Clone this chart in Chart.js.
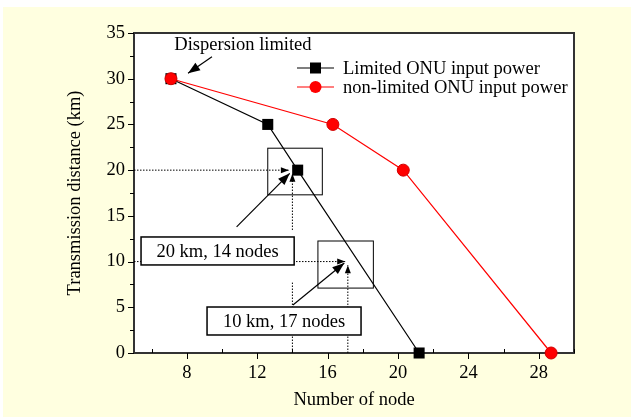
<!DOCTYPE html>
<html>
<head>
<meta charset="utf-8">
<script src="https://cdn.jsdelivr.net/npm/chart.js@4.4.1/dist/chart.umd.min.js"></script>
<style>
  html, body { margin: 0; padding: 0; background: #fff; }
  #wrap { width: 631px; height: 417px; }
</style>
</head>
<body>
<div id="wrap"><canvas id="chart" width="631" height="417"></canvas></div>
<script>
const limitedX = [7.1, 12.6, 14.3, 21.2];
const limitedY = [30, 25, 20, 0];
const nonLimitedX = [7.1, 16.3, 20.3, 28.7];
const nonLimitedY = [30, 25, 20, 0];
const xTickLabels = [8, 12, 16, 20, 24, 28];
const yTickLabels = [0, 5, 10, 15, 20, 25, 30, 35];
const seriesNames = ["Limited ONU input power", "non-limited ONU input power"];

const serif = "'Liberation Serif', 'Times New Roman', serif";
const fontSize = 18.5;

function toPoints(xs, ys) {
  return xs.map((x, i) => ({ x, y: ys[i] }));
}

function arrowHead(ctx, x1, y1, x2, y2, len, half) {
  const a = Math.atan2(y2 - y1, x2 - x1);
  ctx.beginPath();
  ctx.moveTo(x2, y2);
  ctx.lineTo(x2 - len * Math.cos(a) + half * Math.sin(a), y2 - len * Math.sin(a) - half * Math.cos(a));
  ctx.lineTo(x2 - len * Math.cos(a) - half * Math.sin(a), y2 - len * Math.sin(a) + half * Math.cos(a));
  ctx.closePath();
  ctx.fill();
}

const decor = {
  id: "decor",
  beforeDraw(chart) {
    const { ctx, chartArea: a } = chart;
    ctx.save();
    ctx.fillStyle = "#ffffff";
    ctx.fillRect(0, 0, chart.width, chart.height);
    ctx.fillStyle = "#ffffe0";
    ctx.fillRect(3, 7, chart.width - 3, chart.height - 7);
    ctx.fillStyle = "#ffffff";
    ctx.fillRect(a.left, a.top, a.right - a.left, a.bottom - a.top);
    ctx.restore();
  },
  afterDatasetsDraw(chart) {
    const { ctx, chartArea: a, scales } = chart;
    const px = (v) => scales.x.getPixelForValue(v);
    const py = (v) => scales.y.getPixelForValue(v);
    ctx.save();
    ctx.strokeStyle = "#000";
    ctx.fillStyle = "#000";

    // dotted guide lines (the one at x=14 from the axis has no head)
    ctx.lineWidth = 1;
    ctx.setLineDash([1.5, 1.5]);
    const dotted = [
      [5, 20, 13.8, 20, true],
      [14, 13.45, 14, 19.6, true],
      [14, 0, 14, 7.7, false],
      [5, 10, 17.0, 10, true],
      [17.15, 0, 17.15, 9.6, true]
    ];
    dotted.forEach(([x1, y1, x2, y2]) => {
      ctx.beginPath();
      ctx.moveTo(px(x1), py(y1));
      ctx.lineTo(px(x2), py(y2));
      ctx.stroke();
    });
    ctx.setLineDash([]);
    dotted.forEach(([x1, y1, x2, y2, head]) => {
      if (head) arrowHead(ctx, px(x1), py(y1), px(x2), py(y2), 8, 3);
    });

    // solid arrows
    ctx.lineWidth = 1.2;
    const arrows = [
      [9.43, 32.4, 8.07, 30.6],
      [10.83, 13.8, 13.85, 19.65],
      [14.03, 5.25, 16.95, 9.84]
    ];
    arrows.forEach(([x1, y1, x2, y2]) => {
      ctx.beginPath();
      ctx.moveTo(px(x1), py(y1));
      ctx.lineTo(px(x2), py(y2));
      ctx.stroke();
      arrowHead(ctx, px(x1), py(y1), px(x2), py(y2), 12, 4.5);
    });

    // highlight rectangles
    ctx.lineWidth = 1;
    [[12.6, 22.4, 15.7, 17.3], [15.45, 12.25, 18.6, 7.1]].forEach(([x1, y1, x2, y2]) => {
      ctx.strokeRect(px(x1), py(y1), px(x2) - px(x1), py(y2) - py(y1));
    });

    // labelled boxes
    ctx.font = fontSize + "px " + serif;
    ctx.textAlign = "center";
    ctx.textBaseline = "middle";
    [[5.4, 12.69, 14.1, 9.63, "20 km, 14 nodes"], [9.15, 5.03, 17.9, 1.97, "10 km, 17 nodes"]].forEach(([x1, y1, x2, y2, t]) => {
      ctx.fillStyle = "#fff";
      ctx.fillRect(px(x1), py(y1), px(x2) - px(x1), py(y2) - py(y1));
      ctx.lineWidth = 1.5;
      ctx.strokeRect(px(x1), py(y1), px(x2) - px(x1), py(y2) - py(y1));
      ctx.fillStyle = "#000";
      ctx.fillText(t, (px(x1) + px(x2)) / 2, (py(y1) + py(y2)) / 2 + 1);
    });
    ctx.fillText("Dispersion limited", px(11.19), py(33.7));

    // frame and ticks
    ctx.strokeStyle = "#333";
    ctx.lineWidth = 2;
    ctx.beginPath();
    ctx.moveTo(a.left, a.top);
    ctx.lineTo(a.right, a.top);
    ctx.lineTo(a.right, a.bottom);
    ctx.stroke();
    ctx.lineWidth = 1;
    ctx.strokeStyle = "#000";
    for (let v = 0; v <= 35; v += 2.5) {
      const y = Math.round(py(v)) + 0.5;
      const len = v % 5 === 0 ? 6 : 4;
      ctx.beginPath();
      ctx.moveTo(a.left - len, y);
      ctx.lineTo(a.left, y);
      ctx.stroke();
    }
    for (let v = 6; v <= 30; v += 2) {
      const x = Math.round(px(v)) + 0.5;
      ctx.beginPath();
      if (v % 4 === 0) {
        ctx.moveTo(x, a.bottom);
        ctx.lineTo(x, a.bottom + 6);
      } else {
        ctx.moveTo(x, a.bottom);
        ctx.lineTo(x, a.bottom - 4);
      }
      ctx.stroke();
    }

    // legend
    ctx.font = fontSize + "px " + serif;
    ctx.textAlign = "left";
    chart.data.datasets.forEach((ds, i) => {
      const y = 68 + i * 19;
      ctx.strokeStyle = ds.borderColor;
      ctx.lineWidth = 1.2;
      ctx.beginPath();
      ctx.moveTo(297, y);
      ctx.lineTo(334, y);
      ctx.stroke();
      ctx.fillStyle = ds.pointBackgroundColor;
      if (ds.pointStyle === "rect") {
        ctx.fillRect(310, y - 5.5, 11, 11);
      } else {
        ctx.beginPath();
        ctx.arc(315.5, y, 6, 0, Math.PI * 2);
        ctx.fill();
      }
      ctx.fillStyle = "#000";
      ctx.fillText(seriesNames[i], 343, y + 1);
    });
    ctx.restore();
  }
};

new Chart(document.getElementById("chart"), {
  type: "scatter",
  data: {
    datasets: [
      {
        label: seriesNames[0],
        data: toPoints(limitedX, limitedY),
        order: 1,
        showLine: true,
        borderColor: "#000000",
        borderWidth: 1.2,
        pointStyle: "rect",
        pointRadius: 7.8,
        pointBackgroundColor: "#000000",
        pointBorderWidth: 0,
        clip: false
      },
      {
        label: seriesNames[1],
        data: toPoints(nonLimitedX, nonLimitedY),
        order: 0,
        showLine: true,
        borderColor: "#ff0000",
        borderWidth: 1.2,
        pointStyle: "circle",
        pointRadius: 6,
        pointBackgroundColor: "#ff0000",
        pointBorderColor: "#d00000",
        pointBorderWidth: 1,
        clip: false
      }
    ]
  },
  options: {
    responsive: false,
    animation: false,
    layout: { padding: { top: 33, right: 57, left: 3, bottom: 0 } },
    plugins: { legend: { display: false }, tooltip: { enabled: false } },
    scales: {
      x: {
        type: "linear",
        min: 5,
        max: 30,
        afterBuildTicks: (s) => { s.ticks = xTickLabels.map((v) => ({ value: v })); },
        afterFit: (s) => { s.height = 64; },
        grid: { display: false, drawTicks: false },
        border: { display: true, color: "#333", width: 2 },
        ticks: { color: "#000", padding: 9, maxRotation: 0, font: { family: serif, size: fontSize } },
        title: { display: true, text: "Number of node", color: "#000", padding: { top: 0, bottom: 6 }, font: { family: serif, size: fontSize } }
      },
      y: {
        min: 0,
        max: 35,
        afterBuildTicks: (s) => { s.ticks = yTickLabels.map((v) => ({ value: v })); },
        afterFit: (s) => { s.width = 131; },
        grid: { display: false, drawTicks: false },
        border: { display: true, color: "#333", width: 2 },
        ticks: { color: "#000", padding: 9, font: { family: serif, size: fontSize } },
        title: { display: true, text: "Transmission distance (km)", color: "#000", padding: { top: 61, bottom: 0 }, font: { family: serif, size: fontSize } }
      }
    }
  },
  plugins: [decor]
});
</script>
</body>
</html>
